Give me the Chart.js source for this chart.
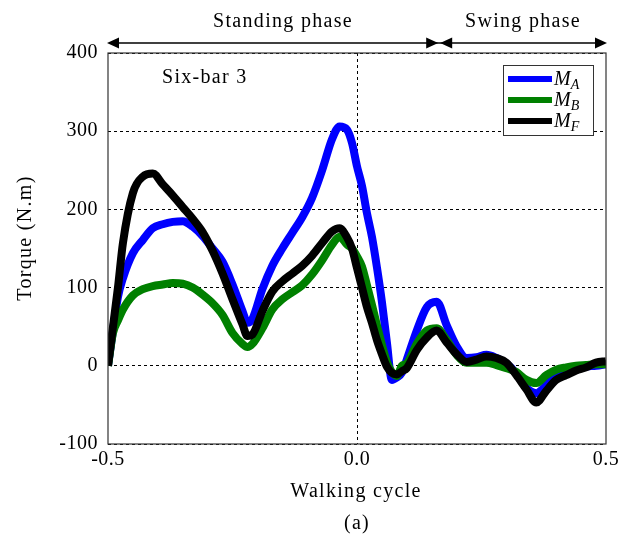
<!DOCTYPE html>
<html><head><meta charset="utf-8">
<script src="https://cdn.jsdelivr.net/npm/chart.js@4/dist/chart.umd.min.js"></script>
<style>html,body{margin:0;padding:0;background:#fff}#c{display:block}</style>
</head><body>
<canvas id="c" width="630" height="543"></canvas>
<script>
// ---- data ----
const cycle   = [-0.50,-0.49,-0.48,-0.47,-0.45,-0.43,-0.41,-0.39,-0.37,-0.35,-0.33,-0.31,-0.29,-0.27,-0.25,-0.23,-0.22,-0.21,-0.19,-0.17,-0.15,-0.13,-0.11,-0.09,-0.07,-0.05,-0.035,-0.02,-0.01,0.00,0.01,0.02,0.03,0.04,0.05,0.06,0.07,0.08,0.09,0.10,0.12,0.14,0.16,0.18,0.20,0.22,0.24,0.26,0.28,0.30,0.32,0.34,0.36,0.38,0.40,0.42,0.44,0.46,0.48,0.50];
const torqueA = [0,45,88,112,144,161,176,181,184,185,178,166,150,133,104,70,55,60,98,128,150,170,190,215,250,290,306,302,285,255,230,195,165,126,82,30,-18,-15,-9,8,45,75,82,52,25,10,11,14,10,3,-10,-28,-35,-25,-12,-8,-4,-1,0,2];
const torqueB = [0,42,58,72,90,98,102,104,106,105,100,91,80,65,42,28,24,28,48,72,85,94,103,117,135,155,165,155,150,140,127,103,78,52,27,5,-8,-13,0,3,28,45,48,33,14,4,4,4,1,-3,-8,-18,-22,-12,-5,-2,0,1,2,2];
const torqueF = [0,50,100,157,221,242,246,232,218,203,188,171,147,118,85,53,38,40,70,95,108,118,128,141,157,172,176,164,150,125,100,75,55,33,15,-1,-9,-11,-7,-3,20,36,45,30,15,5,8,12,10,4,-12,-30,-47,-32,-18,-12,-6,-2,4,6];
const xTickValues = [-0.5, 0.0, 0.5];
const yTickValues = [-100, 0, 100, 200, 300, 400];
const phaseBoundary = 0.165;
const phaseNames = ['Standing phase', 'Swing phase'];
const seriesSubs = ['A', 'B', 'F'];
const seriesColors = ['#0000ff', '#008000', '#000000'];
const panelTitle = 'Six-bar 3';
const xTitle = 'Walking cycle';
const yTitle = 'Torque (N.m)';
const caption = '(a)';

const FONT = "'Liberation Serif', 'DejaVu Serif', serif";
const series = [torqueA, torqueB, torqueF];

const datasets = series.map((vals, i) => ({
  label: 'M' + seriesSubs[i],
  data: cycle.map((x, k) => ({x, y: vals[k]})),
  borderColor: seriesColors[i],
  backgroundColor: seriesColors[i],
  borderWidth: 8,
  pointRadius: 0,
  cubicInterpolationMode: 'monotone',
  borderJoinStyle: 'round',
  borderCapStyle: 'butt',
  order: 3 - i,
  fill: false
}));

const decor = {
  id: 'decor',
  beforeDraw(chart) { chart.ctx.letterSpacing = '0.5px'; },
  afterDraw(chart) {
    const {ctx, chartArea: a, scales: {x, y}} = chart;
    ctx.save();
    // frame
    ctx.strokeStyle = '#333';
    ctx.lineWidth = 1.2;
    ctx.strokeRect(a.left, a.top, a.right - a.left, a.bottom - a.top);

    // phase arrows
    const ay = 43;
    const xb = x.getPixelForValue(phaseBoundary);
    ctx.strokeStyle = '#000';
    ctx.fillStyle = '#000';
    ctx.lineWidth = 1.5;
    ctx.beginPath();
    ctx.moveTo(a.left + 4, ay); ctx.lineTo(a.right - 4, ay);
    ctx.stroke();
    const head = (tipX, dir) => {
      ctx.beginPath();
      ctx.moveTo(tipX, ay);
      ctx.lineTo(tipX - dir * 12, ay - 5.5);
      ctx.lineTo(tipX - dir * 12, ay + 5.5);
      ctx.closePath();
      ctx.fill();
    };
    head(a.left - 1, -1);
    head(xb - 1, 1);
    head(xb + 1, -1);
    head(a.right + 1, 1);

    ctx.letterSpacing = '1.3px';
    ctx.font = '20px ' + FONT;
    ctx.textAlign = 'center';
    ctx.textBaseline = 'middle';
    ctx.fillText(phaseNames[0], 283, 22);
    ctx.fillText(phaseNames[1], 523, 22);

    // panel label
    ctx.textAlign = 'left';
    ctx.fillText(panelTitle, 162, 78);

    // axis titles & caption
    ctx.textAlign = 'center';
    ctx.fillText(xTitle, 356, 492);
    ctx.fillText(caption, 357, 524);
    ctx.save();
    ctx.translate(26, 238);
    ctx.rotate(-Math.PI / 2);
    ctx.fillText(yTitle, 0, 0);
    ctx.restore();

    // legend
    ctx.letterSpacing = '0px';
    const lx = 503, ly = 65, lw = 90, lh = 70;
    ctx.fillStyle = '#fff';
    ctx.fillRect(lx, ly, lw, lh);
    ctx.strokeStyle = '#333';
    ctx.lineWidth = 1;
    ctx.strokeRect(lx + 0.5, ly + 0.5, lw, lh);
    const rows = [79, 100, 121];
    rows.forEach((ry, i) => {
      ctx.strokeStyle = seriesColors[i];
      ctx.lineWidth = 6;
      ctx.beginPath();
      ctx.moveTo(508, ry); ctx.lineTo(552, ry);
      ctx.stroke();
      ctx.fillStyle = '#000';
      ctx.textAlign = 'left';
      ctx.textBaseline = 'alphabetic';
      ctx.font = 'italic 20px ' + FONT;
      ctx.fillText('M', 554, ry + 6);
      const mw = ctx.measureText('M').width;
      ctx.font = 'italic 14px ' + FONT;
      ctx.fillText(seriesSubs[i], 554 + mw, ry + 10);
    });
    ctx.restore();
  }
};

new Chart(document.getElementById('c'), {
  type: 'line',
  data: {datasets},
  plugins: [decor],
  options: {
    responsive: false,
    devicePixelRatio: 1,
    animation: false,
    layout: {padding: {top: 53, right: 24, bottom: 0, left: 0}},
    plugins: {legend: {display: false}, tooltip: {enabled: false}},
    scales: {
      x: {
        type: 'linear', min: -0.5, max: 0.5,
        afterBuildTicks: s => { s.ticks = xTickValues.map(v => ({value: v})); },
        afterFit: s => { s.height = 99; },
        ticks: {color: '#000', font: {family: FONT, size: 20}, padding: 4,
                callback: v => v.toFixed(1), maxRotation: 0},
        grid: {color: c => (c.tick && c.tick.value === 0) ? '#000' : 'rgba(0,0,0,0)',
               lineWidth: 1, drawTicks: false},
        border: {display: false, dash: [3, 3]}
      },
      y: {
        type: 'linear', min: -100, max: 400,
        afterBuildTicks: s => { s.ticks = yTickValues.map(v => ({value: v})); },
        afterFit: s => { s.width = 108; },
        ticks: {color: '#000', font: {family: FONT, size: 20}, padding: 10},
        grid: {color: '#000', lineWidth: 1, drawTicks: false},
        border: {display: false, dash: [3, 3]}
      }
    }
  }
});
</script>
</body></html>
